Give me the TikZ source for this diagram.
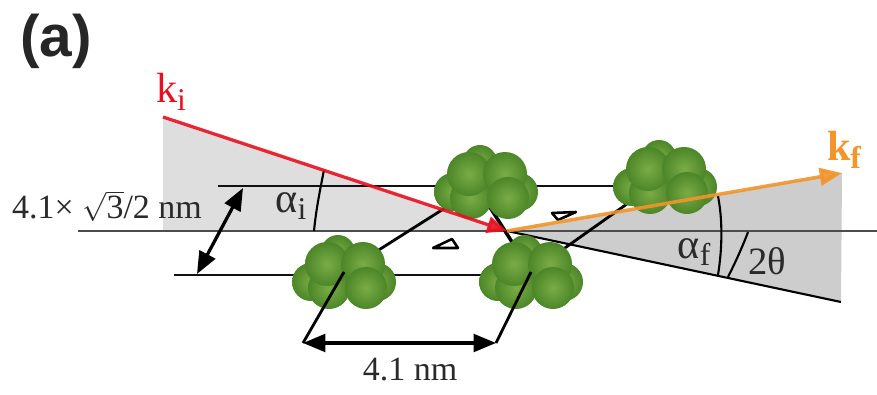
\documentclass[tikz,border=0pt]{standalone}
\usepackage{fontspec}
\setmainfont{Liberation Serif}
\newfontfamily\labelfont{Liberation Sans}
\usetikzlibrary{arrows.meta}
\definecolor{WedgeLight}{HTML}{DEDEDE}
\definecolor{WedgeDark}{HTML}{CDCDCD}
\definecolor{PlaneLine}{HTML}{111111}
\definecolor{BeamRed}{HTML}{E8101F}
\definecolor{BeamOrange}{HTML}{F2952A}
\definecolor{BallCore}{HTML}{7AAC46}
\definecolor{BallRim}{HTML}{4C8628}
\definecolor{LabelGray}{HTML}{2A2A2A}
\newcommand{\subtext}[1]{\raisebox{-0.18em}{\fontsize{27}{27}\selectfont #1}}
\tikzset{
  ball/.style={inner color=BallCore,outer color=BallRim},
  plane/.style={line width=2.4pt,PlaneLine},
  thinline/.style={line width=1.8pt,black},
  lattice/.style={line width=2.4pt,black},
  dimarrow/.style={line width=2.8pt,black,{Triangle[length=19pt,width=15pt]}-{Triangle[length=19pt,width=15pt]}},
  marker/.style={line width=2.2pt,black,fill=white,line join=round},
  txt/.style={inner sep=0pt,text=LabelGray,font=\fontsize{29}{29}\selectfont},
  bigtxt/.style={inner sep=0pt,text=LabelGray,font=\fontsize{36}{36}\selectfont},
  cluster/.pic={
    \shade[ball] (-6,-20) circle (17);
    \shade[ball] (-33,10) circle (19);
    \shade[ball] (33,10) circle (19);
    \shade[ball] (-15,16) circle (21);
    \shade[ball] (-17,-8) circle (22);
    \shade[ball] (19,-8) circle (22);
    \shade[ball] (22,16) circle (21);
  }
}
\begin{document}
\begin{tikzpicture}[x=0.03cm,y=-0.03cm]
  \useasboundingbox[fill=white] (0,0) rectangle (877,394);
  % points
  \coordinate (origin) at (507,231);
  \coordinate (kiEnd) at (163,117);
  \coordinate (kfEnd) at (842,173);
  \coordinate (exitEnd) at (841,302);
  \coordinate (clusterA) at (344,272);
  \coordinate (clusterB) at (531,272);
  \coordinate (clusterC) at (486,182);
  \coordinate (clusterD) at (665,177);
  \coordinate (latticeC) at (474,182);
  \coordinate (upperL) at (218,186);
  \coordinate (upperR) at (620,186);
  \coordinate (lowerL) at (174,275);
  \coordinate (lowerR) at (490,275);
  % wedges
  \fill[WedgeLight] (kiEnd) -- (origin) -- (163,231) -- cycle;
  \fill[WedgeDark] (origin) -- (kfEnd) -- (exitEnd) -- cycle;
  % planes and lattice
  \draw[line width=2pt,black!70] (78,231) -- (877,231);
  \draw[plane] (upperL) -- (upperR);
  \draw[plane] (lowerL) -- (lowerR);
  \draw[thinline] (origin) -- (exitEnd);
  \draw[lattice] (clusterA) -- (clusterC);
  \draw[lattice] (clusterB) -- (clusterD);
  \draw[line width=3pt,black] (latticeC) -- (clusterB);
  % clusters
  \pic at (clusterC) {cluster};
  \pic at (clusterD) {cluster};
  \pic at (clusterA) {cluster};
  \pic at (clusterB) {cluster};
  % markers
  \draw[marker] (433,248) -- (458,248) -- (452,239) -- cycle;
  \draw[marker] (552,213) -- (576,212) -- (558,220) -- cycle;
  % angles
  \draw[thinline] (324,170) .. controls (320,190) and (316,210) .. (314,231);
  \draw[thinline] (718,196) .. controls (723,222) and (722,250) .. (718,275);
  \draw[thinline] (748,232) .. controls (742,248) and (735,263) .. (728,277);
  % dimensions
  \coordinate (gapTop) at (243,188);
  \coordinate (gapBot) at (197,274);
  \coordinate (spanL) at (303,343);
  \coordinate (spanR) at (496,343);
  \draw[lattice] (clusterA) -- (spanL);
  \draw[lattice] (clusterB) -- (spanR);
  \draw[dimarrow] (gapTop) -- (gapBot);
  \draw[dimarrow] (spanL) -- (spanR);
  % beams
  \draw[line width=2.8pt,BeamRed,opacity=0.9,-{Triangle[length=17pt,width=14pt]}] (kiEnd) -- (origin);
  \draw[line width=3pt,BeamOrange,opacity=0.9,-{Triangle[length=19pt,width=15pt]}] (origin) -- (kfEnd);
  % labels
  \node[inner sep=0pt,font=\labelfont\bfseries\fontsize{50}{50}\selectfont,text=black!85] (panel) at (56,41) {(a)};
  \node[bigtxt,text=BeamRed] (kiLabel) at (171,92) {k\subtext{i}};
  \node[bigtxt,text=BeamOrange,font=\bfseries\fontsize{36}{36}\selectfont] (kfLabel) at (844,150) {k\subtext{f}};
  \node[bigtxt] (alphaI) at (291,206) {α\subtext{i}};
  \node[bigtxt] (alphaF) at (694,252) {α\subtext{f}};
  \node[txt,font=\fontsize{33}{33}\selectfont] (twoTheta) at (767,261) {2θ};
  \node[txt] (gapLabel) at (107,206) {4.1× $\sqrt{\mbox{3}}$/2 nm};
  \node[txt] (spanLabel) at (410,370) {4.1 nm};
\end{tikzpicture}
\end{document}
